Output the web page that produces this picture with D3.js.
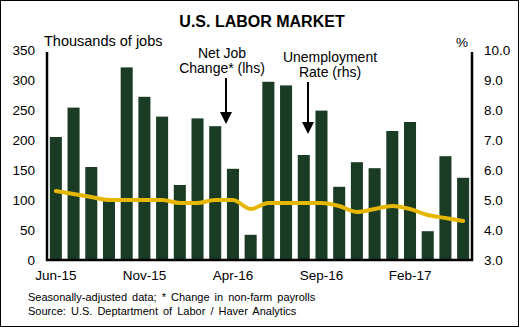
<!DOCTYPE html>
<html>
<head>
<meta charset="utf-8">
<script src="https://cdn.jsdelivr.net/npm/d3@7"></script>
<style>
  body { margin: 0; background: #fff; }
  svg { display: block; font-family: "Liberation Sans", Arial, sans-serif; }
</style>
</head>
<body>
<div id="chart"></div>
<script>
// months Jun-15 .. May-17
var months = ["Jun-15","Jul-15","Aug-15","Sep-15","Oct-15","Nov-15","Dec-15","Jan-16","Feb-16","Mar-16","Apr-16","May-16",
              "Jun-16","Jul-16","Aug-16","Sep-16","Oct-16","Nov-16","Dec-16","Jan-17","Feb-17","Mar-17","Apr-17","May-17"];
var jobChange = [205, 254, 155, 99, 321, 272, 239, 125, 236, 223, 152, 42,
                 297, 291, 175, 249, 122, 163, 153, 215, 230, 48, 173, 137];
var unemployment = [5.3, 5.2, 5.1, 5.0, 5.0, 5.0, 5.0, 4.9, 4.9, 5.0, 5.0, 4.7,
                    4.9, 4.9, 4.9, 4.9, 4.8, 4.6, 4.7, 4.8, 4.7, 4.5, 4.4, 4.3];
var xTicks = ["Jun-15","Nov-15","Apr-16","Sep-16","Feb-17"];
var leftTicks = [0, 50, 100, 150, 200, 250, 300, 350];
var rightTicks = [3, 4, 5, 6, 7, 8, 9, 10];

var W = 519, H = 327;
var svg = d3.select("#chart").append("svg")
  .attr("width", W)
  .attr("height", H);

// outer frame
svg.append("rect")
  .attr("x", 0.5).attr("y", 0.5)
  .attr("width", W - 1).attr("height", H - 1)
  .attr("fill", "#fff").attr("stroke", "#000");

var plotL = 47, plotR = 472, plotT = 50, plotB = 260;

var x = d3.scaleBand().domain(months).range([plotL, plotR]).paddingInner(0.32).paddingOuter(0.16);
var yL = d3.scaleLinear().domain([0, 350]).range([plotB, plotT]);
var yR = d3.scaleLinear().domain([3, 10]).range([plotB, plotT]);

// bars
svg.append("g")
  .selectAll("rect")
  .data(jobChange)
  .enter()
  .append("rect")
    .attr("x", function(d, i){ return x(months[i]) })
    .attr("width", x.bandwidth())
    .attr("y", function(d){ return yL(d) })
    .attr("height", function(d){ return plotB - yL(d) })
    .attr("fill", "#1a3c24");

// unemployment line
var line = d3.line()
  .x(function(d, i){ return x(months[i]) + x.bandwidth() / 2 })
  .y(function(d){ return yR(d) })
  .curve(d3.curveMonotoneX);

svg.append("path")
  .datum(unemployment)
  .attr("d", line)
  .attr("fill", "none")
  .attr("stroke", "#e6b700")
  .attr("stroke-width", 4)
  .attr("stroke-linecap", "round");

// axes
var axL = svg.append("g").attr("transform", "translate(" + plotL + ",0)")
  .call(d3.axisLeft(yL).tickValues(leftTicks).tickSize(0).tickPadding(12));
var axR = svg.append("g").attr("transform", "translate(" + plotR + ",0)")
  .call(d3.axisRight(yR).tickValues(rightTicks).tickSize(0).tickPadding(12).tickFormat(d3.format(".1f")));
var axB = svg.append("g").attr("transform", "translate(0," + plotB + ")")
  .call(d3.axisBottom(x).tickValues(xTicks).tickSize(0).tickPadding(10));

[axL, axR, axB].forEach(function(a){
  a.select(".domain").remove();
  a.selectAll("text").attr("font-size", 13.5).attr("fill", "#000")
    .style("font-family", '"Liberation Sans", Arial, sans-serif');
});

svg.append("line").attr("x1", plotL).attr("x2", plotL).attr("y1", 52).attr("y2", plotB + 1)
  .attr("stroke", "#000").attr("stroke-width", 2.5);
svg.append("line").attr("x1", plotR).attr("x2", plotR).attr("y1", 52).attr("y2", plotB + 1)
  .attr("stroke", "#000").attr("stroke-width", 2.5);
svg.append("line").attr("x1", plotL - 1).attr("x2", plotR + 1).attr("y1", plotB).attr("y2", plotB)
  .attr("stroke", "#000").attr("stroke-width", 2.5);

// titles
svg.append("text")
  .attr("x", 262).attr("y", 27)
  .attr("text-anchor", "middle")
  .attr("font-size", 16).attr("font-weight", "bold")
  .text("U.S. LABOR MARKET");

svg.append("text").attr("x", 44).attr("y", 46).attr("font-size", 14.5).text("Thousands of jobs");
svg.append("text").attr("x", 456).attr("y", 47).attr("font-size", 13.5).text("%");

// annotations
var notes = [
  {lines: ["Net Job", "Change* (lhs)"], cx: 222, y0: 58, ax: 226, a1: 78, a2: 124},
  {lines: ["Unemployment", "Rate (rhs)"], cx: 330, y0: 62, ax: 308, a1: 82, a2: 134}
];
notes.forEach(function(n){
  n.lines.forEach(function(t, j){
    svg.append("text").attr("x", n.cx).attr("y", n.y0 + j * 15)
      .attr("text-anchor", "middle").attr("font-size", 14).text(t);
  });
  svg.append("line").attr("x1", n.ax).attr("x2", n.ax).attr("y1", n.a1).attr("y2", n.a2 - 10)
    .attr("stroke", "#000").attr("stroke-width", 2);
  svg.append("path")
    .attr("d", "M" + (n.ax - 6) + "," + (n.a2 - 12) + "L" + (n.ax + 6) + "," + (n.a2 - 12) + "L" + n.ax + "," + n.a2 + "Z")
    .attr("fill", "#000");
});

// footnotes
svg.append("text").attr("x", 28).attr("y", 301).attr("font-size", 11)
  .attr("word-spacing", 2)
  .text("Seasonally-adjusted  data; * Change  in non-farm  payrolls");
svg.append("text").attr("x", 28).attr("y", 315).attr("font-size", 11)
  .attr("word-spacing", 2)
  .text("Source: U.S. Deptartment  of Labor / Haver Analytics");
</script>
</body>
</html>
